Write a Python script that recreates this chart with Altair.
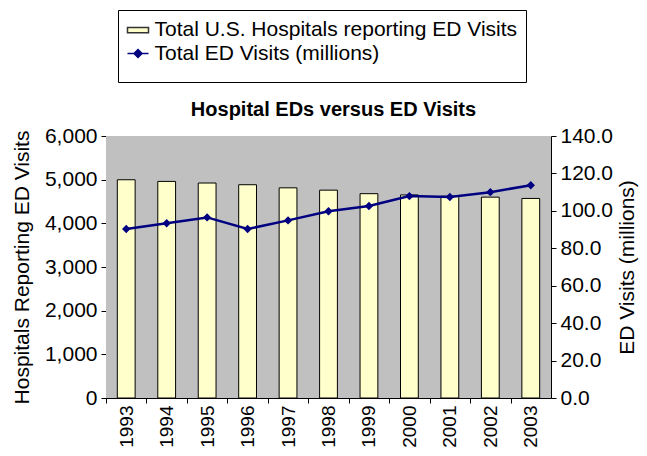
import altair as alt
import pandas as pd

years = ["1993", "1994", "1995", "1996", "1997", "1998", "1999", "2000", "2001", "2002", "2003"]
hospitals = [4998, 4960, 4923, 4884, 4813, 4760, 4679, 4650, 4621, 4600, 4570]
visits = [90.3, 93.4, 96.5, 90.3, 94.9, 99.8, 102.6, 107.9, 107.4, 110.0, 113.7]
left_ticks = [0, 1000, 2000, 3000, 4000, 5000, 6000]
right_ticks = [0, 20, 40, 60, 80, 100, 120, 140]

BAR_SERIES = "Total U.S. Hospitals reporting ED Visits"
LINE_SERIES = "Total ED Visits (millions)"
series_names = [BAR_SERIES, LINE_SERIES]
BAR_FILL = "#FFFFCC"
LINE_COLOR = "#000080"
PLOT_BG = "#C0C0C0"
FONT = "Liberation Sans"

W, H = 445, 262
STEP = W / len(years)

df = pd.DataFrame({"year": years, "hospitals": hospitals, "visits": visits})
legend_df = pd.DataFrame({"series": series_names})

BAR_SYMBOL = "M-1,-0.25H1V0.25H-1Z"
LINE_SYMBOL = "M-1,0H1M0,-0.38L0.38,0L0,0.38L-0.38,0Z"

legend = alt.Legend(
    title=" ",
    titleOrient="bottom",
    titleFontSize=9,
    titlePadding=1,
    orient="none",
    legendX=12,
    legendY=-126,
    direction="vertical",
    fillColor="white",
    strokeColor="black",
    padding=8.5,
    rowPadding=1.5,
    labelFont=FONT,
    labelFontSize=21,
    labelColor="black",
    labelOffset=5,
    labelLimit=600,
    symbolSize=441,
    symbolStrokeWidth=1.5,
    symbolOpacity=1,
)

x_enc = alt.X(
    "year:O",
    title=None,
    scale=alt.Scale(paddingInner=0.56, paddingOuter=0.28),
    axis=alt.Axis(
        labelAngle=270,
        labelFontSize=19,
        tickOffset=-STEP / 2,
        labelOffset=STEP / 2,
        tickSize=5,
        labelPadding=2,
    ),
)

plot_bg = alt.Chart(legend_df).mark_rect(fill=PLOT_BG).encode(
    x=alt.value(0), x2=alt.value(W), y=alt.value(0), y2=alt.value(H)
)

base = alt.Chart(df)

bars = base.mark_bar(fill=BAR_FILL, stroke="black", strokeWidth=1).encode(
    x=x_enc,
    y=alt.Y(
        "hospitals:Q",
        scale=alt.Scale(domain=[0, 6000], nice=False),
        axis=alt.Axis(
            values=left_ticks,
            format=",.0f",
            title="Hospitals Reporting ED Visits",
            titleAngle=270,
            titleX=-84,
            titleY=H / 2,
            titleAlign="center",
            titleBaseline="middle",
            tickSize=5,
            labelPadding=4,
        ),
    ),
)

line = base.mark_line(
    color=LINE_COLOR,
    strokeWidth=2.5,
    point=alt.OverlayMarkDef(shape="diamond", size=70, filled=True, color=LINE_COLOR),
).encode(
    x=x_enc,
    y=alt.Y(
        "visits:Q",
        scale=alt.Scale(domain=[0, 140], nice=False),
        axis=alt.Axis(
            orient="right",
            values=right_ticks,
            format=".1f",
            title="ED Visits (millions)",
            titleAngle=270,
            titleX=76,
            titleY=H / 2,
            titleAlign="center",
            titleBaseline="middle",
            tickSize=5,
            labelPadding=4,
        ),
    ),
)

key = alt.Chart(legend_df).mark_point(filled=True).encode(
    fill=alt.Fill("series:N", scale=alt.Scale(domain=series_names, range=[BAR_FILL, LINE_COLOR]), legend=legend),
    stroke=alt.Stroke("series:N", scale=alt.Scale(domain=series_names, range=["#333333", LINE_COLOR]), legend=legend),
    shape=alt.Shape("series:N", scale=alt.Scale(domain=series_names, range=[BAR_SYMBOL, LINE_SYMBOL]), legend=legend),
    opacity=alt.value(0),
)

chart = alt.layer(plot_bg, bars, line, key).resolve_scale(y="independent").properties(
    width=W,
    height=H,
    autosize=alt.AutoSizeParams(type="none"),
    padding={"left": 98, "top": 128, "right": 88, "bottom": 50},
    title=alt.TitleParams(
        "Hospital EDs versus ED Visits",
        font=FONT,
        fontSize=20,
        fontWeight="bold",
        anchor="middle",
        frame="group",
        baseline="alphabetic",
        offset=18,
        dy=144,
        dx=5,
        color="black",
    ),
).configure_view(
    fill=PLOT_BG, stroke="transparent"
).configure_axis(
    grid=False,
    domainColor="black",
    tickColor="black",
    labelColor="black",
    titleColor="black",
    labelFont=FONT,
    titleFont=FONT,
    titleFontWeight="normal",
    titleFontSize=21,
    labelFontSize=21,
)

chart.save("out.html", embed_options={"renderer": "svg", "actions": False})
